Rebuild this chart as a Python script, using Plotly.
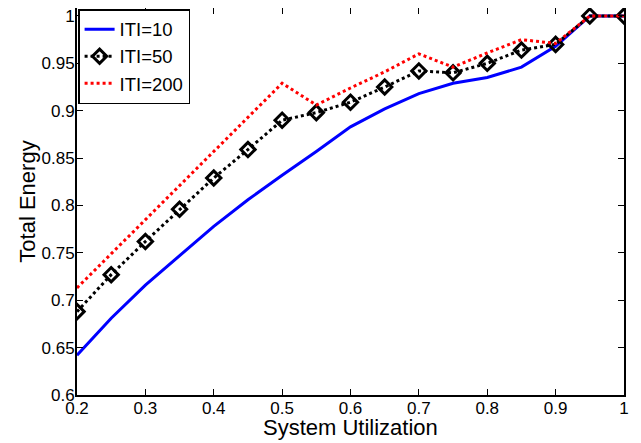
import plotly.graph_objects as go

utilization = [0.2, 0.25, 0.3, 0.35, 0.4, 0.45, 0.5, 0.55, 0.6, 0.65, 0.7, 0.75, 0.8, 0.85, 0.9, 0.95, 1.0]
energy_iti10 = [0.642, 0.681, 0.716, 0.747, 0.778, 0.806, 0.832, 0.857, 0.883, 0.902, 0.918, 0.929, 0.935, 0.946, 0.968, 1.0, 1.0]
energy_iti50 = [0.688, 0.727, 0.762, 0.796, 0.829, 0.859, 0.890, 0.898, 0.909, 0.925, 0.942, 0.940, 0.950, 0.964, 0.970, 1.0, 1.0]
energy_iti200 = [0.713, 0.749, 0.785, 0.821, 0.857, 0.893, 0.929, 0.906, 0.924, 0.941, 0.960, 0.946, 0.961, 0.975, 0.971, 1.0, 1.0]
x_ticks = [0.2, 0.3, 0.4, 0.5, 0.6, 0.7, 0.8, 0.9, 1.0]
x_tick_text = ["0.2", "0.3", "0.4", "0.5", "0.6", "0.7", "0.8", "0.9", "1"]
y_ticks = [0.6, 0.65, 0.7, 0.75, 0.8, 0.85, 0.9, 0.95, 1.0]
y_tick_text = ["0.6", "0.65", "0.7", "0.75", "0.8", "0.85", "0.9", "0.95", "1"]

FONT = "Liberation Sans, Arial, sans-serif"

fig = go.Figure()
fig.add_trace(go.Scatter(x=utilization, y=energy_iti10, mode="lines", name="ITI=10",
                         line=dict(color="#0000ff", width=3)))
fig.add_trace(go.Scatter(x=utilization, y=energy_iti50, mode="lines+markers", name="ITI=50",
                         line=dict(color="black", width=3, dash="dot"),
                         marker=dict(symbol="diamond-open", size=11, color="black",
                                     line=dict(width=3, color="black"))))
fig.add_trace(go.Scatter(x=utilization, y=energy_iti200, mode="lines", name="ITI=200",
                         line=dict(color="#ff0000", width=3, dash="dot")))

axis_common = dict(showgrid=False, zeroline=False, showline=True, linecolor="black", linewidth=2,
                   mirror="ticks", ticks="inside", ticklen=6, tickcolor="black", automargin=False,
                   ticklabeloverflow="allow",
                   tickfont=dict(family=FONT, size=17, color="black"))

# the page body adds an 8px offset; the figure is sized to fit inside the window
fig.update_layout(
    width=633, height=435,
    margin=dict(l=69, r=17, t=0, b=48),
    paper_bgcolor="white", plot_bgcolor="white",
    font=dict(family=FONT, color="black"),
    showlegend=True,
    legend=dict(x=0.002, y=0.997, xanchor="left", yanchor="top",
                bgcolor="white", bordercolor="black", borderwidth=1.5,
                font=dict(family=FONT, size=18.5, color="black"),
                tracegroupgap=0, itemwidth=30),
    xaxis=dict(range=[0.2, 1.0], tickvals=x_ticks, ticktext=x_tick_text,
               ticklabelstandoff=-3,
               **axis_common),
    yaxis=dict(range=[0.6, 1.0084], tickvals=y_ticks, ticktext=y_tick_text,
               title=dict(text="Total Energy", font=dict(family=FONT, size=22, color="black"), standoff=0),
               ticklabelstandoff=-3,
               **axis_common),
    annotations=[dict(text="System Utilization", xref="paper", yref="paper", x=0.5, y=0,
                      xanchor="center", yanchor="middle", yshift=-32, showarrow=False,
                      font=dict(family=FONT, size=22, color="black"))],
)

fig.write_html("out.html")
